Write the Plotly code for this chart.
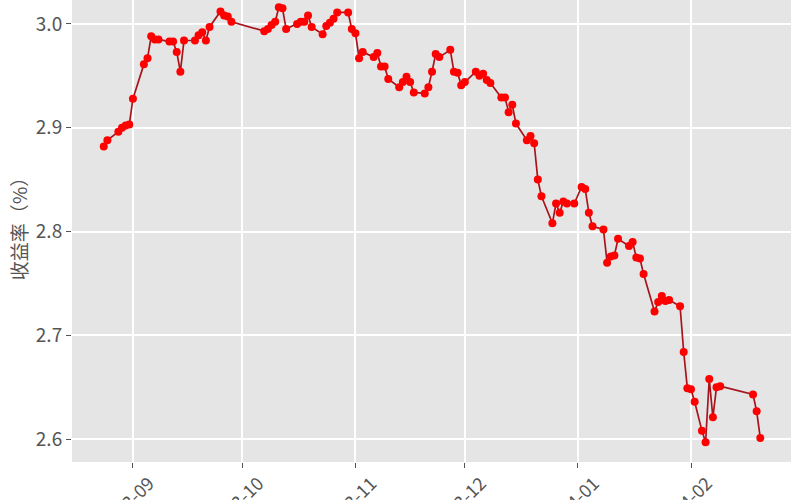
import plotly.graph_objects as go

dates = [
    "2023-08-24", "2023-08-25", "2023-08-28", "2023-08-29", "2023-08-30", "2023-08-31", "2023-09-01",
    "2023-09-04", "2023-09-05", "2023-09-06", "2023-09-07", "2023-09-08",
    "2023-09-11", "2023-09-12", "2023-09-13", "2023-09-14", "2023-09-15",
    "2023-09-18", "2023-09-19", "2023-09-20", "2023-09-21", "2023-09-22",
    "2023-09-25", "2023-09-26", "2023-09-27", "2023-09-28",
    "2023-10-07", "2023-10-08", "2023-10-09", "2023-10-10", "2023-10-11", "2023-10-12", "2023-10-13",
    "2023-10-16", "2023-10-17", "2023-10-18", "2023-10-19", "2023-10-20",
    "2023-10-23", "2023-10-24", "2023-10-25", "2023-10-26", "2023-10-27",
    "2023-10-30", "2023-10-31", "2023-11-01", "2023-11-02", "2023-11-03",
    "2023-11-06", "2023-11-07", "2023-11-08", "2023-11-09", "2023-11-10",
    "2023-11-13", "2023-11-14", "2023-11-15", "2023-11-16", "2023-11-17",
    "2023-11-20", "2023-11-21", "2023-11-22", "2023-11-23", "2023-11-24",
    "2023-11-27", "2023-11-28", "2023-11-29", "2023-11-30", "2023-12-01",
    "2023-12-04", "2023-12-05", "2023-12-06", "2023-12-07", "2023-12-08",
    "2023-12-11", "2023-12-12", "2023-12-13", "2023-12-14", "2023-12-15",
    "2023-12-18", "2023-12-19", "2023-12-20", "2023-12-21", "2023-12-22",
    "2023-12-25", "2023-12-26", "2023-12-27", "2023-12-28", "2023-12-29", "2023-12-31",
    "2024-01-02", "2024-01-03", "2024-01-04", "2024-01-05",
    "2024-01-08", "2024-01-09", "2024-01-10", "2024-01-11", "2024-01-12",
    "2024-01-15", "2024-01-16", "2024-01-17", "2024-01-18", "2024-01-19",
    "2024-01-22", "2024-01-23", "2024-01-24", "2024-01-25", "2024-01-26",
    "2024-01-29", "2024-01-30", "2024-01-31", "2024-02-01", "2024-02-02",
    "2024-02-04", "2024-02-05", "2024-02-06", "2024-02-07", "2024-02-08", "2024-02-09",
    "2024-02-18", "2024-02-19", "2024-02-20",
]

yields = [
    2.882, 2.888, 2.896, 2.900, 2.902, 2.903, 2.928,
    2.961, 2.967, 2.988, 2.985, 2.985,
    2.983, 2.983, 2.973, 2.954, 2.984,
    2.984, 2.989, 2.992, 2.984, 2.997,
    3.012, 3.008, 3.007, 3.002,
    2.993, 2.995, 2.999, 3.002, 3.016, 3.015, 2.995,
    3.000, 3.002, 3.002, 3.008, 2.997,
    2.990, 2.998, 3.001, 3.005, 3.011,
    3.011, 2.995, 2.991, 2.967, 2.973,
    2.968, 2.972, 2.959, 2.959, 2.947,
    2.939, 2.944, 2.949, 2.944, 2.934,
    2.933, 2.939, 2.954, 2.971, 2.968,
    2.975, 2.954, 2.953, 2.941, 2.944,
    2.954, 2.950, 2.952, 2.946, 2.943,
    2.929, 2.929, 2.915, 2.922, 2.904,
    2.888, 2.892, 2.885, 2.850, 2.834,
    2.808, 2.827, 2.818, 2.829, 2.827, 2.827,
    2.843, 2.841, 2.818, 2.805,
    2.802, 2.770, 2.776, 2.777, 2.793,
    2.786, 2.790, 2.775, 2.774, 2.759,
    2.723, 2.732, 2.738, 2.733, 2.734,
    2.728, 2.684, 2.649, 2.648, 2.636,
    2.608, 2.597, 2.658, 2.621, 2.650, 2.651,
    2.643, 2.627, 2.601,
]

x_tick_vals = ["2023-09-01", "2023-10-01", "2023-11-01", "2023-12-01", "2024-01-01", "2024-02-01"]
x_tick_text = ["2023-09", "2023-10", "2023-11", "2023-12", "2024-01", "2024-02"]
y_tick_vals = [2.6, 2.7, 2.8, 2.9, 3.0]
y_tick_text = ["2.6", "2.7", "2.8", "2.9", "3.0"]
y_title = "收益率（%）"

FONT = "Noto Sans CJK SC"
TICK_COLOR = "#555555"

fig = go.Figure()
fig.add_trace(go.Scatter(
    x=dates, y=yields, mode="lines+markers",
    line=dict(color="#A8141C", width=1.7),
    marker=dict(color="#FF0000", size=8, line=dict(width=0)),
    showlegend=False,
))

fig.update_layout(
    width=800, height=500,
    margin=dict(l=72, r=9, t=0, b=38, autoexpand=False),
    paper_bgcolor="white",
    plot_bgcolor="#E5E5E5",
    font=dict(family=FONT, color=TICK_COLOR, size=19),
    xaxis=dict(
        range=["2023-08-15 07:00", "2024-02-28 10:00"],
        tickmode="array", tickvals=x_tick_vals, ticktext=x_tick_text,
        tickangle=-45, ticklabelshift=16, ticklabelstandoff=-2,
        ticks="outside", ticklen=5, tickcolor=TICK_COLOR, tickwidth=1,
        showgrid=True, gridcolor="white", gridwidth=1.5,
        zeroline=False, showline=False, automargin=False,
        tickfont=dict(family=FONT, size=18, color=TICK_COLOR),
    ),
    yaxis=dict(
        range=[2.578, 3.023],
        tickmode="array", tickvals=y_tick_vals, ticktext=y_tick_text,
        ticks="outside", ticklen=5, tickcolor=TICK_COLOR, tickwidth=1,
        showgrid=True, gridcolor="white", gridwidth=1.5,
        zeroline=False, showline=False, automargin=False,
        tickfont=dict(family=FONT, size=19, color=TICK_COLOR),
    ),
    annotations=[dict(
        text=y_title, textangle=-90, showarrow=False,
        xref="paper", yref="paper", x=-0.075, y=0.515,
        xanchor="center", yanchor="middle",
        font=dict(family=FONT, size=19, color=TICK_COLOR),
    )],
)

fig.write_html(
    "out.html",
    config={"displayModeBar": False},
    post_script="document.body.style.margin='0';document.body.style.padding='0';",
)
